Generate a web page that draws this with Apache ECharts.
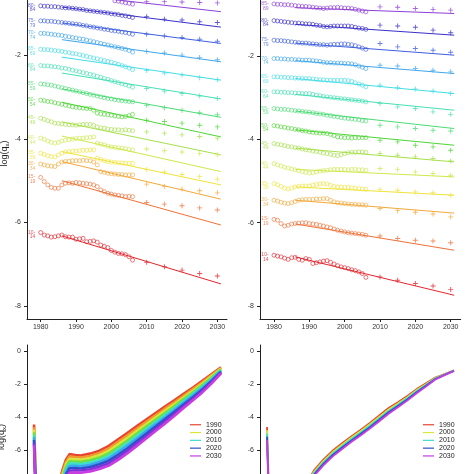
<!DOCTYPE html>
<html><head><meta charset="utf-8">
<script src="https://cdn.jsdelivr.net/npm/echarts@6/dist/echarts.min.js"></script>
<style>html,body{margin:0;padding:0;background:#fff}#c{width:474px;height:474px}</style>
</head><body><div id="c"></div>
<script>
// ---------- categories ----------
const obsYears = [1980,1981,1982,1983,1984,1985,1986,1987,1988,1989,1990,1991,1992,1993,1994,1995,1996,1997,1998,1999,2000,2001,2002,2003,2004,2005,2006];
const fcYears = [2010,2015,2020,2025,2030];
const trendYears = [1986,2031];
const groupLabels = ['10-14','15-19','30-34','35-39','40-44','45-49','50-54','55-59','60-64','65-69','70-74','75-79','80-84','85-89'];
const groupColors = ['#E3262E','#EF7137','#F2A93B','#EFE43A','#CDE94A','#A6E04A','#4ED636','#4BDC75','#45E0B4','#45DDE6','#3FA6EC','#3F5FE0','#3A30C8','#8E3FD6'];
const xTickYears = [1980,1990,2000,2010,2020,2030];
const yTicksTop = [-8,-6,-4,-2];
const yTicksBottom = [-10,-8,-6,-4,-2,0];

// ---------- left panel observed ----------
const obsL10 = [-6.24,-6.30,-6.32,-6.35,-6.34,-6.32,-6.30,-6.34,-6.35,-6.35,-6.40,-6.39,-6.38,-6.46,-6.45,-6.44,-6.47,-6.54,-6.57,-6.60,-6.67,-6.71,-6.74,-6.75,-6.77,-6.82,-6.90];
const obsL15 = [-4.92,-5.02,-5.10,-5.16,-5.18,-5.18,-5.10,-5.06,-5.05,-5.06,-5.04,-5.05,-5.06,-5.07,-5.08,-5.10,-5.14,-5.22,-5.26,-5.30,-5.32,-5.34,-5.35,-5.36,-5.38,-5.37,-5.38];
const obsL30 = [-4.60,-4.62,-4.64,-4.65,-4.66,-4.60,-4.55,-4.54,-4.53,-4.52,-4.52,-4.52,-4.51,-4.52,-4.52,-4.55,-4.62,-4.78,-4.80,-4.82,-4.83,-4.84,-4.85,-4.85,-4.86,-4.86,-4.86];
const obsL35 = [-4.34,-4.37,-4.40,-4.42,-4.43,-4.38,-4.34,-4.31,-4.30,-4.29,-4.29,-4.28,-4.27,-4.27,-4.26,-4.26,-4.46,-4.49,-4.52,-4.54,-4.55,-4.56,-4.57,-4.57,-4.58,-4.58,-4.58];
const obsL40 = [-3.98,-4.01,-4.05,-4.08,-4.10,-4.08,-4.05,-4.03,-4.02,-4.00,-3.99,-3.98,-3.98,-3.97,-3.96,-3.95,-4.10,-4.12,-4.14,-4.17,-4.19,-4.20,-4.21,-4.22,-4.23,-4.25,-4.26];
const obsL45 = [-3.50,-3.53,-3.56,-3.59,-3.62,-3.63,-3.64,-3.65,-3.66,-3.66,-3.67,-3.66,-3.65,-3.65,-3.65,-3.67,-3.71,-3.73,-3.74,-3.76,-3.77,-3.78,-3.78,-3.79,-3.78,-3.79,-3.80];
const obsL50 = [-3.07,-3.08,-3.10,-3.11,-3.13,-3.15,-3.17,-3.19,-3.21,-3.23,-3.24,-3.25,-3.26,-3.27,-3.27,-3.31,-3.38,-3.40,-3.41,-3.42,-3.43,-3.45,-3.46,-3.47,-3.46,-3.44,-3.41];
const obsL55 = [-2.68,-2.69,-2.70,-2.71,-2.73,-2.75,-2.77,-2.79,-2.81,-2.83,-2.85,-2.87,-2.89,-2.91,-2.93,-2.95,-2.97,-2.99,-3.01,-3.03,-3.04,-3.06,-3.07,-3.08,-3.09,-3.10,-3.11];
const obsL60 = [-2.24,-2.25,-2.25,-2.26,-2.27,-2.28,-2.30,-2.31,-2.33,-2.35,-2.37,-2.39,-2.41,-2.43,-2.45,-2.47,-2.50,-2.52,-2.55,-2.57,-2.60,-2.63,-2.65,-2.68,-2.70,-2.73,-2.76];
const obsL65 = [-1.85,-1.86,-1.86,-1.87,-1.88,-1.89,-1.90,-1.92,-1.93,-1.95,-1.96,-1.98,-2.00,-2.02,-2.04,-2.06,-2.08,-2.10,-2.12,-2.14,-2.16,-2.19,-2.21,-2.24,-2.27,-2.30,-2.34];
const obsL70 = [-1.47,-1.47,-1.48,-1.49,-1.50,-1.51,-1.52,-1.54,-1.55,-1.57,-1.58,-1.60,-1.61,-1.63,-1.65,-1.67,-1.69,-1.71,-1.73,-1.75,-1.77,-1.79,-1.81,-1.83,-1.85,-1.88,-1.92];
const obsL75 = [-1.17,-1.17,-1.18,-1.18,-1.19,-1.20,-1.21,-1.22,-1.23,-1.24,-1.25,-1.26,-1.28,-1.29,-1.31,-1.32,-1.34,-1.35,-1.37,-1.38,-1.40,-1.41,-1.42,-1.44,-1.45,-1.47,-1.49];
const obsL80 = [-0.81,-0.82,-0.82,-0.83,-0.83,-0.84,-0.85,-0.86,-0.86,-0.87,-0.88,-0.89,-0.90,-0.92,-0.93,-0.94,-0.95,-0.96,-0.97,-0.98,-1.00,-1.01,-1.02,-1.04,-1.05,-1.07,-1.09];
const obsL85 = [-0.45,-0.46,-0.46,-0.48,-0.49,-0.50,-0.51,-0.52,-0.53,-0.54,-0.55,-0.56,-0.57,-0.58,-0.59,-0.60,-0.61,-0.62,-0.63,-0.64,-0.66,-0.69,-0.70,-0.72,-0.74,-0.75,-0.77];

// ---------- left panel trend lines (1986, 2031) ----------
const trendL10 = [-6.32,-7.47], trendL15 = [-5.00,-6.06], trendL30 = [-4.54,-5.44], trendL35 = [-4.30,-5.10];
const trendL40 = [-3.93,-4.78], trendL45 = [-3.59,-4.38], trendL50 = [-3.12,-3.95], trendL55 = [-2.80,-3.48];
const trendL60 = [-2.42,-3.04], trendL65 = [-2.04,-2.59], trendL70 = [-1.62,-2.15], trendL75 = [-1.22,-1.71];
const trendL80 = [-0.84,-1.32], trendL85 = [-0.52,-0.95];

// ---------- left panel forecasts ----------
const fcL10 = [-6.95,-7.06,-7.14,-7.22,-7.28];
const fcL15 = [-5.52,-5.56,-5.60,-5.65,-5.70];
const fcL30 = [-5.08,-5.14,-5.20,-5.24,-5.29];
const fcL35 = [-4.73,-4.79,-4.85,-4.90,-4.96];
const fcL40 = [-4.24,-4.28,-4.31,-4.35,-4.38];
const fcL45 = [-3.83,-3.86,-3.90,-3.94,-3.98];
const fcL50 = [-3.55,-3.58,-3.62,-3.67,-3.71];
const fcL55 = [-3.19,-3.25,-3.31,-3.37,-3.42];
const fcL60 = [-2.79,-2.85,-2.91,-2.97,-3.03];
const fcL65 = [-2.36,-2.42,-2.47,-2.53,-2.58];
const fcL70 = [-1.90,-1.94,-1.99,-2.05,-2.10];
const fcL75 = [-1.49,-1.53,-1.57,-1.61,-1.66];
const fcL80 = [-1.07,-1.13,-1.15,-1.19,-1.21];
const fcL85 = [-0.71,-0.71,-0.72,-0.73,-0.74];

// ---------- right panel observed ----------
const obsR10 = [-6.78,-6.80,-6.82,-6.85,-6.88,-6.84,-6.83,-6.88,-6.90,-6.86,-6.88,-6.98,-6.96,-6.94,-6.92,-6.91,-6.95,-6.99,-7.03,-7.06,-7.08,-7.10,-7.13,-7.15,-7.18,-7.22,-7.31];
const obsR15 = [-5.92,-5.94,-6.02,-6.08,-6.06,-6.03,-6.02,-6.01,-6.00,-6.00,-6.02,-6.03,-6.04,-6.06,-6.08,-6.10,-6.12,-6.15,-6.18,-6.20,-6.22,-6.24,-6.25,-6.26,-6.27,-6.28,-6.30];
const obsR30 = [-5.46,-5.48,-5.51,-5.53,-5.54,-5.52,-5.49,-5.46,-5.45,-5.44,-5.44,-5.44,-5.43,-5.43,-5.42,-5.42,-5.46,-5.50,-5.52,-5.53,-5.54,-5.55,-5.56,-5.56,-5.57,-5.57,-5.58];
const obsR35 = [-5.06,-5.09,-5.13,-5.17,-5.19,-5.17,-5.14,-5.13,-5.12,-5.12,-5.12,-5.10,-5.08,-5.07,-5.06,-5.07,-5.10,-5.13,-5.14,-5.14,-5.15,-5.15,-5.16,-5.17,-5.18,-5.19,-5.20];
const obsR40 = [-4.58,-4.61,-4.64,-4.67,-4.69,-4.71,-4.73,-4.75,-4.77,-4.79,-4.81,-4.80,-4.78,-4.76,-4.75,-4.74,-4.73,-4.72,-4.72,-4.72,-4.72,-4.73,-4.72,-4.72,-4.73,-4.73,-4.74];
const obsR45 = [-4.10,-4.12,-4.13,-4.15,-4.17,-4.18,-4.20,-4.21,-4.23,-4.25,-4.26,-4.28,-4.29,-4.31,-4.33,-4.34,-4.36,-4.38,-4.39,-4.37,-4.34,-4.32,-4.31,-4.31,-4.30,-4.30,-4.31];
const obsR50 = [-3.67,-3.68,-3.70,-3.71,-3.73,-3.74,-3.76,-3.77,-3.79,-3.80,-3.82,-3.83,-3.84,-3.85,-3.85,-3.86,-3.88,-3.91,-3.94,-3.95,-3.96,-3.96,-3.97,-3.96,-3.96,-3.96,-3.96];
const obsR55 = [-3.26,-3.27,-3.28,-3.28,-3.29,-3.30,-3.31,-3.32,-3.33,-3.34,-3.35,-3.36,-3.38,-3.39,-3.40,-3.42,-3.43,-3.45,-3.46,-3.48,-3.49,-3.50,-3.51,-3.52,-3.53,-3.55,-3.56];
const obsR60 = [-2.86,-2.86,-2.87,-2.87,-2.88,-2.88,-2.89,-2.89,-2.90,-2.90,-2.90,-2.92,-2.94,-2.95,-2.97,-2.98,-2.99,-3.00,-3.01,-3.02,-3.03,-3.04,-3.05,-3.06,-3.07,-3.08,-3.10];
const obsR65 = [-2.50,-2.50,-2.51,-2.51,-2.52,-2.52,-2.53,-2.53,-2.54,-2.54,-2.54,-2.55,-2.56,-2.57,-2.57,-2.58,-2.58,-2.58,-2.58,-2.58,-2.58,-2.59,-2.61,-2.64,-2.67,-2.70,-2.74];
const obsR70 = [-2.06,-2.06,-2.07,-2.07,-2.08,-2.08,-2.09,-2.09,-2.10,-2.10,-2.10,-2.11,-2.12,-2.13,-2.15,-2.16,-2.16,-2.17,-2.17,-2.17,-2.18,-2.18,-2.19,-2.21,-2.24,-2.27,-2.30];
const obsR75 = [-1.62,-1.63,-1.63,-1.64,-1.65,-1.66,-1.67,-1.68,-1.69,-1.69,-1.70,-1.71,-1.72,-1.73,-1.73,-1.74,-1.73,-1.72,-1.72,-1.71,-1.71,-1.72,-1.73,-1.75,-1.78,-1.81,-1.84];
const obsR80 = [-1.15,-1.16,-1.17,-1.18,-1.19,-1.20,-1.21,-1.21,-1.22,-1.23,-1.23,-1.24,-1.26,-1.27,-1.29,-1.30,-1.29,-1.28,-1.28,-1.28,-1.28,-1.28,-1.29,-1.31,-1.33,-1.34,-1.36];
const obsR85 = [-0.75,-0.76,-0.76,-0.77,-0.77,-0.78,-0.79,-0.80,-0.81,-0.81,-0.82,-0.83,-0.84,-0.85,-0.86,-0.85,-0.84,-0.84,-0.83,-0.84,-0.85,-0.85,-0.86,-0.88,-0.90,-0.92,-0.94];

// ---------- right panel trend lines (1986, 2031) ----------
const trendR10 = [-6.82,-7.74], trendR15 = [-6.03,-6.66], trendR30 = [-5.46,-5.77], trendR35 = [-5.14,-5.34];
const trendR40 = [-4.72,-4.90], trendR45 = [-4.21,-4.54], trendR50 = [-3.77,-4.14], trendR55 = [-3.32,-3.74];
const trendR60 = [-2.92,-3.30], trendR65 = [-2.54,-2.90], trendR70 = [-2.11,-2.42], trendR75 = [-1.69,-1.98];
const trendR80 = [-1.24,-1.50], trendR85 = [-0.84,-0.98];

// ---------- right panel forecasts ----------
const fcR10 = [-7.30,-7.38,-7.46,-7.52,-7.60];
const fcR15 = [-6.32,-6.38,-6.42,-6.44,-6.48];
const fcR30 = [-5.66,-5.71,-5.75,-5.79,-5.86];
const fcR35 = [-5.20,-5.22,-5.26,-5.28,-5.34];
const fcR40 = [-4.70,-4.72,-4.78,-4.82,-4.86];
const fcR45 = [-4.34,-4.38,-4.42,-4.46,-4.52];
const fcR50 = [-4.02,-4.06,-4.14,-4.18,-4.26];
const fcR55 = [-3.66,-3.70,-3.74,-3.78,-3.80];
const fcR60 = [-3.14,-3.22,-3.26,-3.34,-3.40];
const fcR65 = [-2.70,-2.76,-2.79,-2.84,-2.90];
const fcR70 = [-2.22,-2.24,-2.30,-2.34,-2.38];
const fcR75 = [-1.70,-1.78,-1.82,-1.86,-1.91];
const fcR80 = [-1.26,-1.28,-1.31,-1.38,-1.44];
const fcR85 = [-0.82,-0.83,-0.86,-0.88,-0.90];

// ---------- bottom panels: log(qx) by age ----------
const ages = [0,1,5,10,13,15,17,19,22,25,30,35,40,45,50,55,60,65,70,75,80,85,90,95,100];
const bandYearsL = ['1990','1995','2000','2005','2010','2015','2020','2025','2030'];
const bandColorsL = ['#E8432F','#F2962F','#D6E63A','#6EE040','#3EE0C8','#3AA8F0','#2F4FC8','#7A35D8','#C83CE0'];
const bl1990 = [-4.45,-7.90,-8.80,-9.00,-8.20,-7.30,-6.60,-6.25,-6.30,-6.33,-6.22,-6.04,-5.75,-5.35,-4.95,-4.55,-4.15,-3.75,-3.36,-2.98,-2.59,-2.20,-1.80,-1.38,-0.97];
const bl1995 = [-4.61,-8.04,-8.94,-9.14,-8.35,-7.45,-6.75,-6.39,-6.43,-6.46,-6.36,-6.18,-5.90,-5.51,-5.11,-4.70,-4.29,-3.89,-3.49,-3.10,-2.70,-2.30,-1.89,-1.45,-1.02];
const bl2000 = [-4.76,-8.18,-9.08,-9.28,-8.50,-7.60,-6.90,-6.54,-6.57,-6.59,-6.49,-6.32,-6.05,-5.66,-5.26,-4.85,-4.44,-4.03,-3.62,-3.22,-2.81,-2.40,-1.98,-1.52,-1.06];
const bl2005 = [-4.92,-8.31,-9.21,-9.41,-8.65,-7.75,-7.05,-6.68,-6.70,-6.72,-6.63,-6.46,-6.20,-5.82,-5.42,-5.00,-4.58,-4.16,-3.75,-3.34,-2.91,-2.49,-2.06,-1.59,-1.11];
const bl2010 = [-5.08,-8.45,-9.35,-9.55,-8.80,-7.90,-7.20,-6.83,-6.83,-6.86,-6.76,-6.60,-6.35,-5.98,-5.58,-5.15,-4.73,-4.30,-3.88,-3.46,-3.02,-2.59,-2.15,-1.67,-1.16];
const bl2015 = [-5.23,-8.59,-9.49,-9.69,-8.95,-8.05,-7.35,-6.97,-6.96,-6.99,-6.90,-6.73,-6.50,-6.13,-5.73,-5.30,-4.87,-4.44,-4.01,-3.57,-3.13,-2.69,-2.24,-1.74,-1.20];
const bl2020 = [-5.39,-8.73,-9.63,-9.83,-9.10,-8.20,-7.50,-7.11,-7.10,-7.12,-7.03,-6.87,-6.65,-6.29,-5.89,-5.45,-5.01,-4.58,-4.14,-3.69,-3.24,-2.79,-2.33,-1.81,-1.25];
const bl2025 = [-5.54,-8.86,-9.76,-9.96,-9.25,-8.35,-7.65,-7.26,-7.23,-7.25,-7.17,-7.01,-6.80,-6.44,-6.04,-5.60,-5.16,-4.71,-4.27,-3.81,-3.34,-2.88,-2.41,-1.88,-1.29];
const bl2030 = [-5.70,-9.00,-9.90,-10.10,-9.40,-8.50,-7.80,-7.40,-7.36,-7.38,-7.30,-7.15,-6.95,-6.60,-6.20,-5.75,-5.30,-4.85,-4.40,-3.93,-3.45,-2.98,-2.50,-1.95,-1.34];

const bandYearsR = ['1990','2000','2010','2020','2030'];
const bandColorsR = ['#E8432F','#D6E63A','#3EE0C8','#2F4FC8','#C83CE0'];
const br1990 = [-4.60,-8.50,-9.30,-9.50,-9.20,-8.90,-8.60,-8.30,-7.90,-7.25,-6.60,-6.05,-5.60,-5.18,-4.78,-4.35,-3.90,-3.45,-3.10,-2.72,-2.30,-1.95,-1.60,-1.38,-1.16];
const br2000 = [-4.80,-8.62,-9.42,-9.62,-9.32,-9.02,-8.72,-8.40,-8.00,-7.34,-6.69,-6.14,-5.69,-5.26,-4.86,-4.44,-3.99,-3.54,-3.17,-2.79,-2.36,-2.00,-1.63,-1.40,-1.17];
const br2010 = [-5.00,-8.75,-9.55,-9.75,-9.45,-9.15,-8.85,-8.50,-8.10,-7.43,-6.78,-6.23,-5.78,-5.35,-4.95,-4.53,-4.08,-3.63,-3.25,-2.86,-2.43,-2.05,-1.66,-1.42,-1.18];
const br2020 = [-5.20,-8.88,-9.68,-9.88,-9.58,-9.28,-8.98,-8.60,-8.20,-7.51,-6.86,-6.31,-5.86,-5.43,-5.03,-4.61,-4.16,-3.71,-3.32,-2.93,-2.49,-2.10,-1.69,-1.43,-1.19];
const br2030 = [-5.40,-9.00,-9.80,-10.00,-9.70,-9.40,-9.10,-8.70,-8.30,-7.60,-6.95,-6.40,-5.95,-5.52,-5.12,-4.70,-4.25,-3.80,-3.40,-3.00,-2.55,-2.15,-1.72,-1.45,-1.20];
const legendYears = ['1990','2000','2010','2020','2030'];

// ---------- assemble ----------
const obsLeft = [obsL10,obsL15,obsL30,obsL35,obsL40,obsL45,obsL50,obsL55,obsL60,obsL65,obsL70,obsL75,obsL80,obsL85];
const trendLeft = [trendL10,trendL15,trendL30,trendL35,trendL40,trendL45,trendL50,trendL55,trendL60,trendL65,trendL70,trendL75,trendL80,trendL85];
const fcLeft = [fcL10,fcL15,fcL30,fcL35,fcL40,fcL45,fcL50,fcL55,fcL60,fcL65,fcL70,fcL75,fcL80,fcL85];
const obsRight = [obsR10,obsR15,obsR30,obsR35,obsR40,obsR45,obsR50,obsR55,obsR60,obsR65,obsR70,obsR75,obsR80,obsR85];
const trendRight = [trendR10,trendR15,trendR30,trendR35,trendR40,trendR45,trendR50,trendR55,trendR60,trendR65,trendR70,trendR75,trendR80,trendR85];
const fcRight = [fcR10,fcR15,fcR30,fcR35,fcR40,fcR45,fcR50,fcR55,fcR60,fcR65,fcR70,fcR75,fcR80,fcR85];
const bandLeft = [bl1990,bl1995,bl2000,bl2005,bl2010,bl2015,bl2020,bl2025,bl2030];
const bandRight = [br1990,br2000,br2010,br2020,br2030];

const FONT = 'Liberation Sans, Arial, sans-serif';
const AX = '#222';
const plusPath = 'path://M4.1,0H5.9V4.1H10V5.9H5.9V10H4.1V5.9H0V4.1H4.1Z';

function panelSeries(gi, obsList, trendList, fcList) {
  const out = [];
  groupLabels.forEach((g, k) => {
    const col = groupColors[k];
    out.push({
      type: 'line', xAxisIndex: gi, yAxisIndex: gi, silent: true, z: 2,
      symbol: 'none', showSymbol: false, clip: true,
      lineStyle: { color: col, width: 1 },
      data: trendYears.map((y, j) => [y, trendList[k][j]])
    });
    out.push({
      type: 'scatter', xAxisIndex: gi, yAxisIndex: gi, silent: true, z: 3, clip: true,
      symbol: 'circle', symbolSize: 4,
      itemStyle: { color: 'rgba(255,255,255,0)', borderColor: col, borderWidth: 0.8 },
      data: obsList[k].map((v, i) => i === 0 ? {
        value: [obsYears[i], v],
        label: { show: true, position: 'left', distance: 3, offset: [0, 2],
          formatter: g.replace('-', '-\n'), color: col, fontSize: 5, lineHeight: 4.6,
          fontFamily: FONT, align: 'right' }
      } : [obsYears[i], v])
    });
    out.push({
      type: 'scatter', xAxisIndex: gi, yAxisIndex: gi, silent: true, z: 3, clip: true,
      symbol: plusPath, symbolSize: 5,
      itemStyle: { color: col },
      data: fcYears.map((y, j) => [y, fcList[k][j]])
    });
  });
  return out;
}

function bandSeries(gi, names, colors, curves, width) {
  return curves.map((c, k) => ({
    type: 'line', name: names[k], xAxisIndex: gi, yAxisIndex: gi, silent: true,
    symbol: 'none', showSymbol: false, clip: true, z: 2 + k,
    lineStyle: { color: colors[k], width: width },
    itemStyle: { color: colors[k] },
    data: ages.map((a, i) => [a, c[i]])
  }));
}

function topX(gi, min, max) {
  return { gridIndex: gi, type: 'value', min: min, max: max,
    axisLine: { show: true, onZero: false, lineStyle: { color: AX, width: 1 } },
    axisTick: { show: true, length: 3, customValues: xTickYears, lineStyle: { color: AX } },
    axisLabel: { customValues: xTickYears, fontSize: 7, color: '#333', margin: 5, fontFamily: FONT,
      formatter: v => String(v) },
    splitLine: { show: false } };
}
function yAx(gi, min, max, ticks, name, pad) {
  const a = { gridIndex: gi, type: 'value', min: min, max: max,
    axisLine: { show: true, onZero: false, lineStyle: { color: AX, width: 1 } },
    axisTick: { show: true, length: 3, customValues: ticks, lineStyle: { color: AX } },
    axisLabel: { customValues: ticks, fontSize: 7, color: '#333', margin: 6, fontFamily: FONT,
      formatter: v => String(v) },
    splitLine: { show: false } };
  if (name) {
    a.name = '{a|log(q}{s|x}{a|)}';
    a.nameLocation = 'middle';
    a.nameGap = 17;
    a.nameTextStyle = { padding: pad, rich: {
      a: { fontSize: 9, color: '#222', fontFamily: FONT, lineHeight: 11 },
      s: { fontSize: 6, color: '#222', fontFamily: FONT, verticalAlign: 'bottom', lineHeight: 11 } } };
  }
  return a;
}
function hiddenX(gi) {
  return { gridIndex: gi, type: 'value', min: -3.75, max: 103.2, show: false,
    axisLine: { onZero: false }, splitLine: { show: false } };
}

const chart = echarts.init(document.getElementById('c'), null, { renderer: 'canvas' });
chart.setOption({
  animation: false,
  backgroundColor: '#fff',
  grid: [
    { left: 27, top: 0, width: 200, height: 319, outerBoundsMode: 'none', containLabel: false },
    { left: 260, top: 0, width: 200.7, height: 319, outerBoundsMode: 'none', containLabel: false },
    { left: 27, top: 345, width: 200, height: 184, outerBoundsMode: 'none', containLabel: false },
    { left: 260, top: 345, width: 200, height: 184, outerBoundsMode: 'none', containLabel: false }
  ],
  xAxis: [ topX(0, 1976.12, 2032.73), topX(1, 1976.04, 2032.83), hiddenX(2), hiddenX(3) ],
  yAxis: [
    yAx(0, -8.311, -0.6707, yTicksTop, true, [0, 0, 0, 12]),
    yAx(1, -8.31, -0.656, yTicksTop, false),
    yAx(2, -10.8, 0.38, yTicksBottom, true, [0, 0, 0, 0]),
    yAx(3, -10.8, 0.38, yTicksBottom, false)
  ],
  legend: [
    { data: legendYears, left: 190, top: 421, orient: 'vertical', icon: 'rect',
      itemWidth: 11, itemHeight: 1.2, itemGap: 0.3, padding: 0, selectedMode: false,
      textStyle: { fontSize: 7, lineHeight: 7.5, color: '#222', fontFamily: FONT } },
    { data: legendYears, left: 423, top: 421, orient: 'vertical', icon: 'rect',
      itemWidth: 11, itemHeight: 1.2, itemGap: 0.3, padding: 0, selectedMode: false,
      textStyle: { fontSize: 7, lineHeight: 7.5, color: '#222', fontFamily: FONT } }
  ],
  series: [].concat(
    panelSeries(0, obsLeft, trendLeft, fcLeft),
    panelSeries(1, obsRight, trendRight, fcRight),
    bandSeries(2, bandYearsL, bandColorsL, bandLeft, 2.6),
    bandSeries(3, bandYearsR, bandColorsR, bandRight, 1.8)
  )
});
</script>
</body></html>
